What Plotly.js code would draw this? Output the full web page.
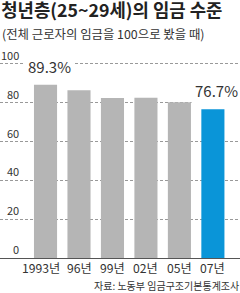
<!DOCTYPE html>
<html><head><meta charset="utf-8">
<script src="https://cdn.plot.ly/plotly-3.0.1.min.js"></script>
<style>html,body{margin:0;padding:0;background:#fff}#c{width:240px;height:293px}</style>
</head><body><div id="c"></div>
<script>
const categories = ["1993년", "96년", "99년", "02년", "05년", "07년"];
const values = [89.3, 86.5, 82.5, 82.6, 80.2, 76.7];
const barColors = ["#b5b5b5", "#b5b5b5", "#b5b5b5", "#b5b5b5", "#b5b5b5", "#0a95d8"];
const yTicks = [0, 20, 40, 60, 80, 100];
const labelled = [0, 5];
const titleText = "청년층(25~29세)의 임금 수준";
const subtitleText = "(전체 근로자의 임금을 100으로 봤을 때)";
const sourceText = "자료: 노동부 임금구조기본통계조사";

const FONT = "'Noto Sans CJK KR', 'Noto Sans', sans-serif";
const ann = [];
yTicks.forEach(v => ann.push({
  xref: 'paper', yref: 'y', x: 20 / 240, y: v, xanchor: 'right', yanchor: 'bottom',
  text: String(v), showarrow: false, borderpad: 0, font: {family: FONT, size: 11, color: '#333'}, yshift: 0
}));
categories.forEach((c, i) => ann.push({
  xref: 'x', yref: 'paper', x: i, y: 0, xanchor: 'center', yanchor: 'top',
  text: c, showarrow: false, xshift: i === 0 ? -5 : 0, yshift: 0, borderpad: 0,
  font: {family: FONT, size: 12.2, color: '#333'}
}));
labelled.forEach(i => ann.push({
  xref: 'x', yref: 'y', x: i, y: values[i], xanchor: 'center', yanchor: 'bottom',
  text: values[i].toFixed(1) + '%', showarrow: false, xshift: 4, yshift: 4,
  bgcolor: '#fff', borderpad: 3,
  font: {family: FONT, size: 15, color: '#333'}
}));
ann.push({xref: 'paper', yref: 'paper', x: 0, y: 1.143, xanchor: 'left', yanchor: 'middle',
  text: subtitleText, showarrow: false, font: {family: FONT, size: 12.4, color: '#333'}});
ann.push({xref: 'paper', yref: 'paper', x: 1, y: -0.142, xanchor: 'right', yanchor: 'middle',
  text: sourceText, showarrow: false, borderpad: 0, font: {family: FONT, size: 10, color: '#333'}});

Plotly.newPlot('c', [{
  type: 'bar', x: categories.map((c, i) => i), y: values,
  marker: {color: barColors}, width: 0.69, hoverinfo: 'skip'
}], {
  width: 240, height: 293,
  margin: {l: 0, r: 0, t: 62, b: 35},
  paper_bgcolor: '#fff', plot_bgcolor: '#fff',
  showlegend: false,
  title: {text: '<b>' + titleText + '</b>', x: 0.005, xanchor: 'left', xref: 'container',
    y: 1 - 11 / 293, yref: 'container', yanchor: 'middle',
    font: {family: FONT, size: 17.8, color: '#222'}},
  xaxis: {range: [-1.36, 5.81], tickvals: categories.map((c, i) => i),
    showticklabels: false, showgrid: false, zeroline: false, showline: true,
    linecolor: '#555', linewidth: 1, ticks: '', fixedrange: true},
  yaxis: {range: [0, 101], tickvals: yTicks, showticklabels: false, showgrid: true,
    gridcolor: '#999', griddash: '3px,2px', gridwidth: 1, zeroline: false, fixedrange: true},
  annotations: ann
}, {displayModeBar: false, staticPlot: true});
</script></body></html>
